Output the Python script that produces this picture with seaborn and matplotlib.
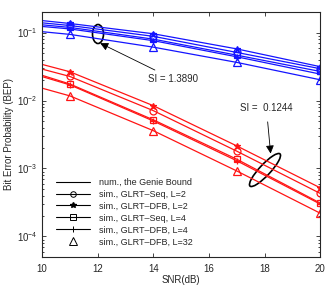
import matplotlib
matplotlib.use("Agg")
import matplotlib.pyplot as plt
import seaborn as sns
import pandas as pd
import numpy as np
from matplotlib.lines import Line2D
from matplotlib.patches import Ellipse
from matplotlib.transforms import IdentityTransform

snr = [10, 11, 14, 17, 20]

# blue group (SI = 1.3890)
blue_dfb2 = [0.150, 0.136, 0.096, 0.0575, 0.0315]
blue_seq2 = [0.139, 0.127, 0.088, 0.051, 0.0294]
blue_seq4 = [0.130, 0.119, 0.080, 0.0465, 0.0268]
blue_dfb4 = [0.123, 0.113, 0.076, 0.044, 0.0245]
blue_dfb32 = [0.103, 0.094, 0.061, 0.0364, 0.0202]

# red group (SI = 0.1244)
red_dfb2 = [0.034, 0.0265, 0.0084, 0.00215, 0.00052]
red_seq2 = [0.029, 0.0226, 0.0071, 0.0018, 0.00043]
red_seq4 = [0.0235, 0.0175, 0.0052, 0.00137, 0.00031]
red_dfb4 = [0.0225, 0.0170, 0.0050, 0.00130, 0.00030]
red_dfb32 = [0.0152, 0.0117, 0.0036, 0.00092, 0.00022]

legend_labels = ["num., the Genie Bound", "sim., GLRT\u2013Seq, L=2", "sim., GLRT\u2013DFB, L=2",
                 "sim., GLRT\u2013Seq, L=4", "sim., GLRT\u2013DFB, L=4", "sim., GLRT\u2013DFB, L=32"]
xticks = [10, 12, 14, 16, 18, 20]

sns.set_style("ticks")
plt.rcParams['font.family'] = ['Liberation Sans', 'DejaVu Sans']
plt.rcParams['mathtext.fontset'] = 'custom'
plt.rcParams['mathtext.rm'] = 'Liberation Sans'

fig = plt.figure(figsize=(3.26, 2.88), dpi=100)
ax = fig.add_axes([0.129, 0.108, 0.853, 0.850])

series = [
    (blue_dfb2, "*", "full"), (blue_seq2, "o", "none"), (blue_seq4, "s", "none"),
    (blue_dfb4, "+", "full"), (blue_dfb32, "^", "none"),
]
rseries = [
    (red_dfb2, "*", "full"), (red_seq2, "o", "none"), (red_seq4, "s", "none"),
    (red_dfb4, "+", "full"), (red_dfb32, "^", "none"),
]
for group, col in ((series, "#1414ff"), (rseries, "#ff1414")):
    for vals, mk, fill in group:
        sns.lineplot(x=snr, y=vals, ax=ax, color=col, lw=0.9, marker=mk,
                     markevery=[1, 2, 3, 4], markersize=5 if mk != "^" else 6,
                     fillstyle=fill, markeredgewidth=0.9, markeredgecolor=col,
                     markerfacecolor=col if fill == "full" else "none", legend=False)

ax.set_yscale("log")
ax.set_xlim(10, 20)
ax.set_ylim(5e-5, 0.2)
ax.set_xticks(xticks)
ax.set_xticklabels([str(t) for t in xticks])
ax.tick_params(which="both", direction="in", top=True, right=True, labelsize=7, width=0.6)
ax.tick_params(which="major", length=3)
ax.tick_params(which="minor", length=1.5)
ax.tick_params(axis="x", pad=5)
for s in ax.spines.values():
    s.set_linewidth(0.8)
ax.set_xlabel("SNR(dB)", fontsize=7, labelpad=1)
ax.set_ylabel("Bit Error Probability (BEP)", fontsize=7, labelpad=2)

handles = [
    Line2D([], [], color="k", lw=0.8),
    Line2D([], [], color="k", lw=0.8, marker="o", mfc="none", ms=4, mew=0.7),
    Line2D([], [], color="k", lw=0.8, marker="*", ms=4),
    Line2D([], [], color="k", lw=0.8, marker="s", mfc="none", ms=4, mew=0.7),
    Line2D([], [], color="k", lw=0.8, marker="+", ms=5, mew=0.7),
    Line2D([], [], color="k", lw=0, marker="^", mfc="none", ms=6, mew=0.7),
]
ax.legend(handles, legend_labels, loc="lower left", bbox_to_anchor=(0.03, 0.02),
          frameon=False, fontsize=6.5, handlelength=3.8, labelspacing=0.33,
          handletextpad=1.0, borderaxespad=0.2)

H = 288
def disp(x, y):
    return (x, H - y)

# annotation SI = 1.3890
ax.annotate("SI = 1.3890", xy=(0.209, 0.873), xycoords="axes fraction",
            xytext=(0.381, 0.727), textcoords="axes fraction", fontsize=7,
            ha="left", va="center",
            arrowprops=dict(arrowstyle="-|>", color="k", lw=0.6, mutation_scale=12,
                            shrinkA=1, shrinkB=0))
e1 = Ellipse(disp(98, 34), 11, 19, angle=0, fill=False, ec="k", lw=1.2,
             transform=IdentityTransform())
ax.add_artist(e1)

# annotation SI = 0.1244
ax.annotate("SI =  0.1244", xy=(0.822, 0.422), xycoords="axes fraction",
            xytext=(0.712, 0.608), textcoords="axes fraction", fontsize=7,
            ha="left", va="center",
            arrowprops=dict(arrowstyle="-|>", color="k", lw=0.6, mutation_scale=12,
                            shrinkA=4, shrinkB=0))
e2 = Ellipse(disp(265, 170), 44, 11, angle=47, fill=False, ec="k", lw=1.2,
             transform=IdentityTransform())
ax.add_artist(e2)

fig.savefig("out.png", dpi=100)
